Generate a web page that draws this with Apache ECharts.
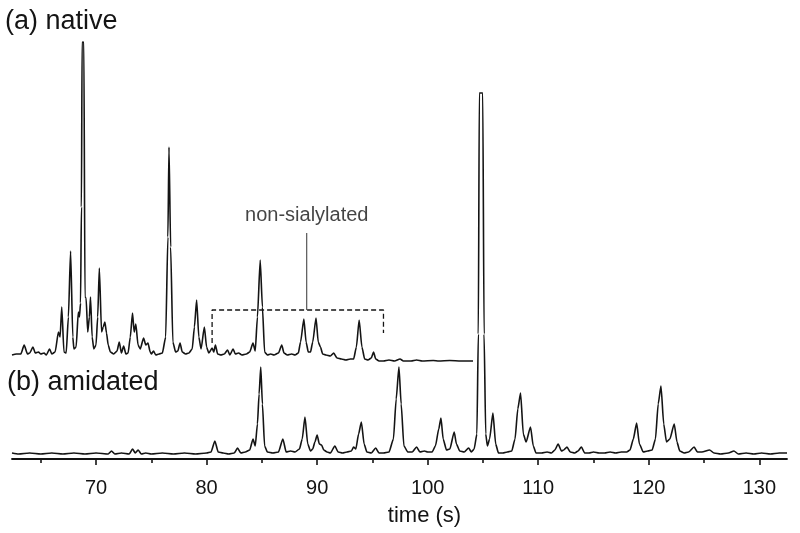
<!DOCTYPE html>
<html>
<head>
<meta charset="utf-8">
<script src="https://cdn.jsdelivr.net/npm/echarts@6/dist/echarts.min.js"></script>
<style>
  html, body { margin: 0; padding: 0; background: #fff; }
  #chart { width: 800px; height: 533px; }
</style>
</head>
<body>
<div id="chart"></div>
<script>
// time (s) / signal (a.u., relative to own baseline)
const nativeTrace = [
  [62.4,2],[62.8,3],[63.2,3],[63.5,12],[63.8,3],[64.0,4],[64.3,10],[64.5,4],[64.8,5],[65.0,3],
  [65.3,4],[65.5,2],[65.8,8],[66.0,3],[66.3,5],[66.6,25],[66.75,20],[66.9,50],[67.1,5],[67.3,4],
  [67.5,40],[67.7,106],[67.9,20],[68.0,8],[68.2,10],[68.4,45],[68.5,40],[68.6,54],[68.68,150],
  [68.74,315],[68.9,315],[69.0,60],[69.1,59],[69.25,25],[69.4,40],[69.5,60],[69.65,20],[69.8,8],
  [70.0,12],[70.15,40],[70.3,89],[70.5,25],[70.65,30],[70.8,35],[70.95,24],[71.1,12],[71.3,5],
  [71.6,3],[71.9,6],[72.1,15],[72.3,4],[72.5,11],[72.7,3],[72.9,4],[73.1,20],[73.3,44],[73.45,25],
  [73.6,33],[73.8,12],[74.0,8],[74.3,19],[74.5,12],[74.7,14],[74.9,5],[75.0,3],[75.2,6],[75.4,2],
  [75.7,3],[76.0,4],[76.3,20],[76.5,120],[76.6,210],[76.75,110],[76.95,15],[77.2,5],[77.4,6],
  [77.6,14],[77.8,5],[78.1,3],[78.4,4],[78.7,8],[78.9,30],[79.1,57],[79.3,20],[79.5,8],[79.8,30],
  [80.0,10],[80.2,4],[80.5,9],[80.65,5],[80.8,12],[81.0,3],[81.3,2],[81.6,3],[81.9,7],[82.1,2],
  [82.4,8],[82.6,3],[82.9,4],[83.2,2],[83.6,3],[83.9,5],[84.2,14],[84.4,6],[84.6,40],[84.85,97],
  [85.05,50],[85.25,5],[85.5,2],[85.8,3],[86.1,2],[86.5,4],[86.8,12],[87.0,4],[87.3,2],[87.7,3],
  [88.0,2],[88.3,4],[88.5,15],[88.8,38],[89.0,15],[89.2,5],[89.4,5],[89.6,15],[89.9,39],[90.1,15],
  [90.3,10],[90.5,3],[90.8,2],[91.2,1],[91.5,4],[91.8,-1],[92.2,-2],[92.6,-3],[93.0,-2],[93.3,-2],
  [93.55,10],[93.8,37],[94.05,10],[94.3,-2],[94.6,-3],[94.9,-1],[95.1,5],[95.3,-2],[95.6,-4],
  [96.0,-4],[96.5,-3],[97.0,-4],[97.5,-2],[97.8,-4],[98.5,-4],[99.0,-3],[99.5,-4],[100.5,-3.5],
  [101.0,-4],[102.0,-3.5],[103.0,-4],[104.1,-4]
]

const amidatedTrace = [
  [62.4,1],[63,0],[64,1],[65,0],[66,1],[67,0],[68,1],[69,0],[70,1],[71.1,0],[71.4,3],[71.7,0],
  [72.3,1],[73.0,0],[73.3,5],[73.55,1],[73.8,4],[74.1,0],[74.5,1],[75,0],[76,1],[77,0],[78,1],
  [79,0],[80.0,1],[80.4,2],[80.75,13],[81.05,2],[81.5,1],[82.0,0],[82.5,1],[82.8,6],[83.1,1],
  [83.5,2],[83.9,4],[84.2,15],[84.4,8],[84.6,30],[84.75,60],[84.9,87],[85.05,50],[85.25,8],
  [85.5,2],[86.0,1],[86.5,2],[86.9,15],[87.2,2],[87.6,3],[88.0,2],[88.4,5],[88.65,15],[88.9,37],
  [89.15,10],[89.4,3],[89.6,5],[89.8,12],[90.0,19],[90.2,10],[90.4,9],[90.6,4],[90.9,2],[91.2,1],
  [91.6,8],[91.9,2],[92.3,1],[92.7,2],[93.1,3],[93.3,7],[93.5,5],[93.75,20],[94.0,32],[94.25,10],
  [94.5,2],[94.9,1],[95.3,6],[95.6,1],[96.0,1],[96.5,2],[96.9,15],[97.15,55],[97.4,87],[97.6,50],
  [97.85,8],[98.2,2],[98.6,2],[99.0,7],[99.3,2],[99.7,3],[100.0,2],[100.4,2],[100.7,8],[101.0,25],
  [101.2,36],[101.4,15],[101.7,4],[102.0,5],[102.4,22],[102.6,10],[102.9,3],[103.3,2],[103.7,6],
  [103.95,2],[104.2,5],[104.45,20],[104.58,120],[104.67,361],[104.98,361],[105.1,120],[105.25,20],
  [105.4,8],[105.6,15],[105.9,41],[106.15,10],[106.4,1],[106.8,1],[107.2,2],[107.6,3],[107.9,15],
  [108.15,45],[108.4,61],[108.65,20],[108.9,12],[109.3,27],[109.55,8],[109.8,1],[110.3,1],
  [110.8,2],[111.2,1],[111.5,4],[111.8,10],[112.1,3],[112.3,4],[112.6,7],[112.9,2],[113.3,1],
  [113.6,3],[113.9,7],[114.2,1],[114.6,1],[115.0,2],[115.5,1],[116,1],[116.5,2],[117,1],[117.5,2],
  [118.0,2],[118.3,4],[118.6,15],[118.9,31],[119.15,10],[119.5,2],[119.9,3],[120.3,4],[120.6,15],
  [120.85,50],[121.1,68],[121.35,30],[121.6,12],[121.9,15],[122.3,30],[122.55,12],[122.8,3],
  [123.2,1],[123.6,2],[124.1,7],[124.4,2],[124.8,2],[125.5,4],[125.9,1],[126.5,0],[127.2,1],
  [127.7,3],[128.1,0],[128.8,1],[129.5,0],[130.2,1],[131,0],[131.8,1],[132.5,1]
]

// bracket round the non-sialylated peaks (native trace units)
const bracket = [[80.5,14],[80.5,47],[96.0,47],[96.0,24]]
const pointer = [[89.06,47],[89.06,124]]
const noteLabel = [[89.06,142]]

const majorTicks = [70,80,90,100,110,120,130]
const minorTicks = [65,75,85,95,105,115,125]

let myChart = echarts.init(document.getElementById('chart'))
const font = 'Liberation Sans, Arial, sans-serif'
const ink = '#141414'
const textInk = '#141414'

let option = {
  animation: false,
  backgroundColor: '#fff',
  grid: { left: 12, right: 13, top: 42, bottom: 74 },
  xAxis: [
    {
      type: 'value',
      min: 62.4,
      max: 132.5,
      splitLine: { show: false },
      axisLine: { onZero: false, lineStyle: { color: ink, width: 1.8 } },
      axisTick: { customValues: majorTicks, length: 6, lineStyle: { color: ink, width: 1.6 } },
      axisLabel: { customValues: majorTicks, fontSize: 20, color: textInk, fontFamily: font, margin: 19 },
      name: 'time (s)',
      nameLocation: 'middle',
      nameGap: 46,
      nameTextStyle: { fontSize: 22, color: textInk, fontFamily: font, padding: [0, 0, 0, 50] }
    },
    {
      type: 'value',
      position: 'bottom',
      min: 62.4,
      max: 132.5,
      splitLine: { show: false },
      axisLine: { show: false, onZero: false },
      axisTick: { customValues: minorTicks, length: 4, lineStyle: { color: ink, width: 1.6 } },
      axisLabel: { show: false }
    }
  ],
  yAxis: [
    { type: 'value', min: -5, max: 412, show: false },
    { type: 'value', min: -102, max: 315, show: false }
  ],
  graphic: [
    { type: 'text', left: 5, top: 8, style: { text: '(a) native', fontSize: 27, fontFamily: font, fill: textInk } },
    { type: 'text', left: 7, top: 369, style: { text: '(b) amidated', fontSize: 27, fontFamily: font, fill: textInk } }
  ],
  series: [
    {
      name: 'amidated',
      type: 'line',
      yAxisIndex: 0,
      data: amidatedTrace,
      showSymbol: false,
      smooth: 0.2,
      smoothMonotone: 'x',
      lineStyle: { color: ink, width: 1.6 }
    },
    {
      name: 'native',
      type: 'line',
      yAxisIndex: 1,
      data: nativeTrace,
      showSymbol: false,
      smooth: 0.2,
      smoothMonotone: 'x',
      lineStyle: { color: ink, width: 1.6 }
    },
    {
      type: 'line',
      yAxisIndex: 1,
      data: bracket,
      showSymbol: false,
      lineStyle: { color: ink, width: 1.3, type: [5, 3] }
    },
    {
      type: 'line',
      yAxisIndex: 1,
      data: pointer,
      showSymbol: false,
      lineStyle: { color: '#333', width: 1 }
    },
    {
      type: 'scatter',
      yAxisIndex: 1,
      data: noteLabel,
      symbolSize: 0,
      label: { show: true, position: 'inside', formatter: 'non-sialylated', fontSize: 20, color: textInk, fontFamily: font }
    }
  ]
}

myChart.setOption(option)
</script>
</body>
</html>
